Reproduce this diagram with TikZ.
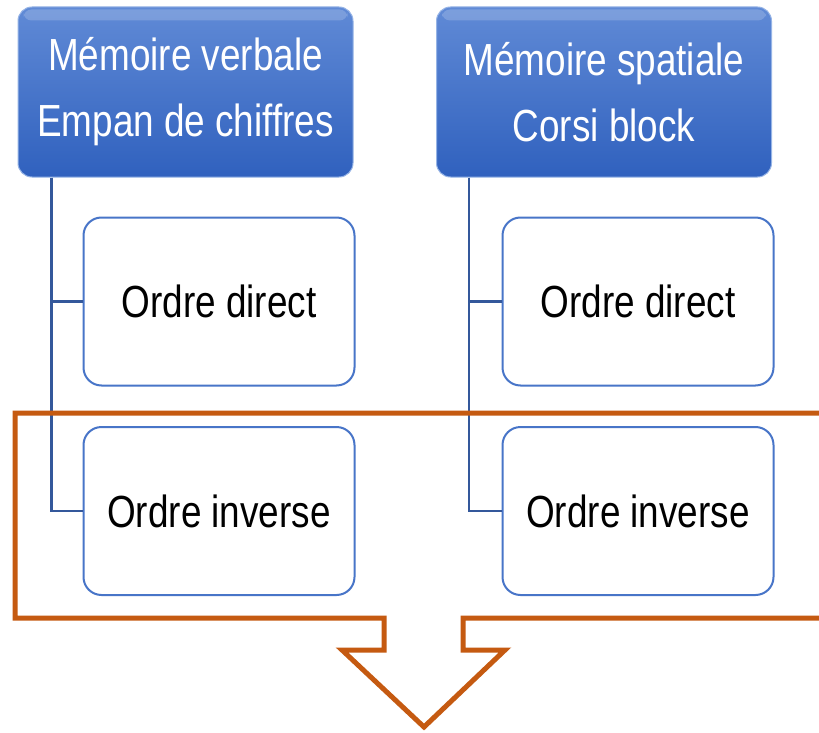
\documentclass[tikz,border=0pt]{standalone}
\usepackage{fontspec}
\setmainfont{Liberation Sans}
\newfontfamily\narrowfont[FakeStretch=0.82]{Liberation Sans}
\definecolor{hdtop}{RGB}{96,138,214}
\definecolor{hdbot}{RGB}{48,97,190}
\definecolor{hdrim}{RGB}{150,180,230}
\definecolor{boxline}{RGB}{72,117,200}
\definecolor{connblue}{RGB}{52,88,155}
\definecolor{calloutor}{RGB}{197,90,17}
\tikzset{
  header/.style={rounded corners=14pt, top color=hdtop, bottom color=hdbot,
    draw=hdrim, line width=1pt, minimum width=335pt, minimum height=170pt,
    align=center, text=white, inner sep=0pt,
    font=\narrowfont\fontsize{45}{66}\selectfont},
  childbox/.style={rounded corners=18pt, draw=boxline, line width=2pt, fill=white,
    minimum width=271pt, minimum height=168pt, inner sep=0pt,
    font=\narrowfont\fontsize{45}{54}\selectfont},
  conn/.style={draw=connblue, line width=2.8pt},
  callout/.style={draw=calloutor, line width=5pt, line join=miter}
}
\begin{document}
\begin{tikzpicture}[x=1pt,y=-1pt]
\clip (0,0) rectangle (819,733);
\fill[white] (0,0) rectangle (819,733);
% headers
\node[header] (h1) at (185.5,92) {Mémoire verbale\\Empan de chiffres};
\node[header] (h2) at (604,92) {Mémoire spatiale\\Corsi block};
% top highlight on headers
\fill[white, opacity=0.18, rounded corners=8pt] ([xshift=6pt,yshift=-3pt]h1.north west) rectangle ([xshift=-6pt,yshift=-14pt]h1.north east);
\fill[white, opacity=0.18, rounded corners=8pt] ([xshift=6pt,yshift=-3pt]h2.north west) rectangle ([xshift=-6pt,yshift=-14pt]h2.north east);
% children
\node[childbox] (c1) at (219,301.5) {Ordre direct};
\node[childbox] (c2) at (219,511) {Ordre inverse};
\node[childbox] (c3) at (638,301.5) {Ordre direct};
\node[childbox] (c4) at (638,511) {Ordre inverse};
% connectors
\coordinate (s1) at ([xshift=34pt]h1.south west);
\coordinate (s2) at ([xshift=33pt]h2.south west);
\draw[conn] (s1) |- (c1.west);
\draw[conn] (s1) |- (c2.west);
\draw[conn] (s2) |- (c3.west);
\draw[conn] (s2) |- (c4.west);
% callout with down arrow
\draw[callout] (15,413) -- (840,413) -- (840,618) -- (463,618) -- (463,650)
  -- (505,650) -- (424,727) -- (342,650) -- (384,650) -- (384,618) -- (15,618) -- cycle;
\end{tikzpicture}
\end{document}
